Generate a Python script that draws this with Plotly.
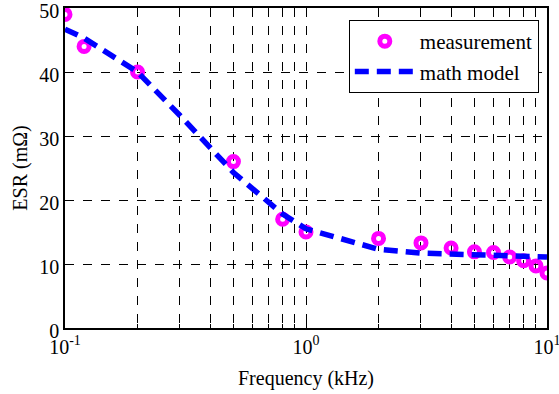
import plotly.graph_objects as go

# Data
meas_freq = [0.1, 0.12, 0.2, 0.5, 0.8, 1, 2, 3, 4, 5, 6, 7, 8, 9, 10]
meas_esr = [49, 44, 40, 26, 17, 15, 14, 13.3, 12.5, 11.9, 11.8, 11.1, 10.5, 9.7, 8.6]
model_freq = [0.1, 0.12, 0.2, 0.3, 0.5, 0.8, 1, 2, 3, 5, 10]
model_esr = [46.7, 45.3, 40, 33.2, 24.3, 17.8, 15.5, 12.3, 11.7, 11.4, 11.1]
x_ticks = [0.1, 1, 10]
x_ticktext = ["10<sup>-1</sup>", "10<sup>0</sup>", "10<sup>1</sup>"]
x_minor = [0.2, 0.3, 0.4, 0.5, 0.6, 0.7, 0.8, 0.9, 2, 3, 4, 5, 6, 7, 8, 9]
y_ticks = [0, 10, 20, 30, 40, 50]

FONT = "'Liberation Serif', 'Times New Roman', Times, serif"

fig = go.Figure()
fig.add_trace(go.Scatter(
    x=meas_freq, y=meas_esr, mode="markers", name="measurement",
    marker=dict(symbol="circle-open", size=10, color="#ff00ff",
                line=dict(width=5, color="#ff00ff")),
))
fig.add_trace(go.Scatter(
    x=model_freq, y=model_esr, mode="lines", name="math model",
    line=dict(color="#0000ff", width=5.5, dash="14px,8px"),
))

fig.update_layout(
    width=559, height=394,
    margin=dict(l=65, r=12, t=8, b=66, autoexpand=False),
    paper_bgcolor="white", plot_bgcolor="white",
    font=dict(family=FONT, size=20, color="black"),
    showlegend=True,
    legend=dict(
        x=0.983, y=0.9625, xanchor="right", yanchor="top",
        bgcolor="white", bordercolor="black", borderwidth=1,
        font=dict(family=FONT, size=21), tracegroupgap=0,
        itemwidth=60,
    ),
)

fig.update_xaxes(
    type="log", range=[-1, 1], automargin=False,
    tickvals=x_ticks, ticktext=x_ticktext,
    ticks="inside", ticklen=5, tickcolor="black",
    ticklabeloverflow="allow",
    showgrid=True, gridcolor="black", griddash="dash", gridwidth=1,
    minor=dict(tickvals=x_minor, showgrid=True, gridcolor="black",
               griddash="dash", gridwidth=1, ticks="inside", ticklen=4,
               tickcolor="black"),
    showline=True, linecolor="black", linewidth=1.5, mirror=True,
    zeroline=False,
    title=dict(text="Frequency (kHz)", standoff=14, font=dict(size=20)),
    tickfont=dict(size=20),
)
fig.update_yaxes(
    range=[0, 50], automargin=False, tickvals=y_ticks,
    ticks="inside", ticklen=5, tickcolor="black",
    ticklabeloverflow="allow", ticklabelshift=3,
    showgrid=True, gridcolor="black", griddash="dash", gridwidth=1,
    showline=True, linecolor="black", linewidth=1.5, mirror=True,
    zeroline=False,
    title=dict(text="ESR (mΩ)", standoff=6, font=dict(size=20)),
    tickfont=dict(size=20),
)

fig.write_html("out.html")
